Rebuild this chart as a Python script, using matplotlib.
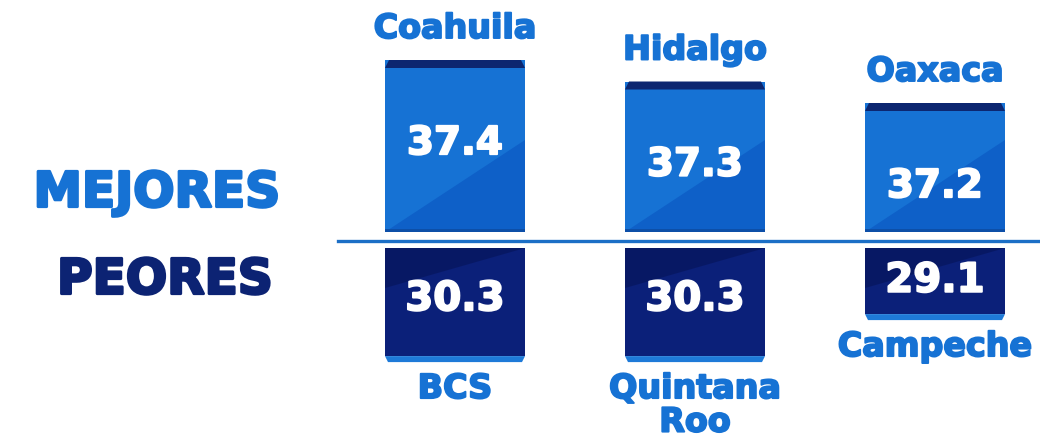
import matplotlib
matplotlib.use("Agg")
import matplotlib.pyplot as plt
import matplotlib.patheffects as pe
from matplotlib.patches import Polygon

# datos del gráfico
mejores_estados = ["Coahuila", "Hidalgo", "Oaxaca"]
mejores_valores = [37.4, 37.3, 37.2]
peores_estados = ["BCS", "Quintana\nRoo", "Campeche"]
peores_valores = [30.3, 30.3, 29.1]

AZUL = "#1672d4"
AZUL_OSC = "#0e60c8"
NAVY = "#0b2079"
NAVY_OSC = "#071864"
BISEL = "#0c2670"
FUENTE = "DejaVu Sans"

W, H = 1040, 445
fig = plt.figure(figsize=(W / 100, H / 100), dpi=100)


def cap_px(fs):
    # altura de mayúsculas de DejaVu Sans Bold en px
    return 0.729 * fs * 100 / 72


def grueso(color, lw=1.4):
    # engrosar un poco la letra
    return [pe.withStroke(linewidth=lw, foreground=color)]


# eje x común: centro de barra i en 455 + 240*i px
x0, x1 = 338, 1040
xlim = ((x0 - 455) / 240, (x1 - 455) / 240)
ancho = 140 / 240
fs_val = 28
fs_cat = 24

# ---- barras superiores (mejores) ----
base_top, k_top = 36.6, 215.0   # px por unidad
y_base_top = 232
ax_top = fig.add_axes([x0 / W, (H - y_base_top) / H, (x1 - x0) / W, y_base_top / H])
ax_top.set_xlim(*xlim)
ax_top.set_ylim(base_top, base_top + y_base_top / k_top)
ax_top.axis("off")

for i, v in enumerate(mejores_valores):
    ax_top.bar(i, v - base_top, bottom=base_top, width=ancho, color=AZUL, linewidth=0, zorder=1)
    izq, der = i - ancho / 2, i + ancho / 2
    # triángulo oscuro inferior derecho
    alto_diag = min(92 / k_top, v - base_top)
    ax_top.add_patch(Polygon([(izq, base_top), (der, base_top), (der, base_top + alto_diag)],
                             closed=True, color=AZUL_OSC, lw=0, zorder=2))
    # bisel superior
    b = 8 / k_top
    ins = 4 / 240
    ax_top.add_patch(Polygon([(izq, v - b), (der, v - b), (der - ins, v), (izq + ins, v)],
                             closed=True, color=BISEL, lw=0, zorder=3))
    # borde inferior
    ax_top.add_patch(Polygon([(izq, base_top), (der, base_top), (der, base_top + 3 / k_top),
                              (izq, base_top + 3 / k_top)], closed=True, color="#0d4fa8", lw=0, zorder=3))
    y_txt = v - (80 + cap_px(fs_val) / 2) / k_top
    ax_top.text(i, y_txt, f"{v:.1f}", color="white", fontsize=fs_val,
                fontweight="bold", family=FUENTE, ha="center", va="baseline", zorder=4,
                path_effects=grueso("white"))
    ax_top.text(i, v + 22 / k_top, mejores_estados[i], color=AZUL, fontsize=fs_cat,
                fontweight="bold", family=FUENTE, ha="center", va="baseline", zorder=4,
                path_effects=grueso(AZUL))

# ---- barras inferiores (peores) ----
base_bot, k_bot = 27.04, 35.0
y_top_bot = 248
ax_bot = fig.add_axes([x0 / W, 0, (x1 - x0) / W, (H - y_top_bot) / H])
ax_bot.set_xlim(*xlim)
ax_bot.set_ylim(base_bot + (H - y_top_bot) / k_bot, base_bot)
ax_bot.axis("off")

for i, v in enumerate(peores_valores):
    b = 6 / k_bot
    cuerpo = v - base_bot - b
    ax_bot.bar(i, cuerpo, bottom=base_bot, width=ancho, color=NAVY, linewidth=0, zorder=1)
    izq, der = i - ancho / 2, i + ancho / 2
    # triángulo oscuro superior izquierdo
    ax_bot.add_patch(Polygon([(izq, base_bot), (der, base_bot), (izq, base_bot + 40 / k_bot)],
                             closed=True, color=NAVY_OSC, lw=0, zorder=2))
    # bisel inferior
    ins = 3 / 240
    ax_bot.add_patch(Polygon([(izq, v - b), (der, v - b), (der - ins, v), (izq + ins, v)],
                             closed=True, color="#1e7ad8", lw=0, zorder=3))
    y_txt = base_bot + cuerpo * 0.44 + cap_px(fs_val + 1) / 2 / k_bot
    ax_bot.text(i, y_txt, f"{v:.1f}", color="white", fontsize=fs_val + 1,
                fontweight="bold", family=FUENTE, ha="center", va="baseline", zorder=4,
                path_effects=grueso("white"))
    ax_bot.text(i, v + 10 / k_bot, peores_estados[i], color=AZUL, fontsize=fs_cat,
                fontweight="bold", family=FUENTE, ha="center", va="top", zorder=4,
                linespacing=1.02, path_effects=grueso(AZUL))

# línea divisoria
fig.add_artist(plt.Line2D([x0 / W, 1], [(H - 241) / H] * 2, color="#1c6fc6", lw=2.4))

# etiquetas laterales
fig.text(157 / W, (H - 189 - cap_px(35) / 2) / H, "MEJORES", color="#1672d4", fontsize=35,
         fontweight="bold", family=FUENTE, ha="center", va="baseline",
         path_effects=grueso("#1672d4", 2))
fig.text(165 / W, (H - 276 - cap_px(35) / 2) / H, "PEORES", color="#0c2373", fontsize=35,
         fontweight="bold", family=FUENTE, ha="center", va="baseline",
         path_effects=grueso("#0c2373", 2))

fig.savefig("out.png", dpi=100, facecolor="white")
